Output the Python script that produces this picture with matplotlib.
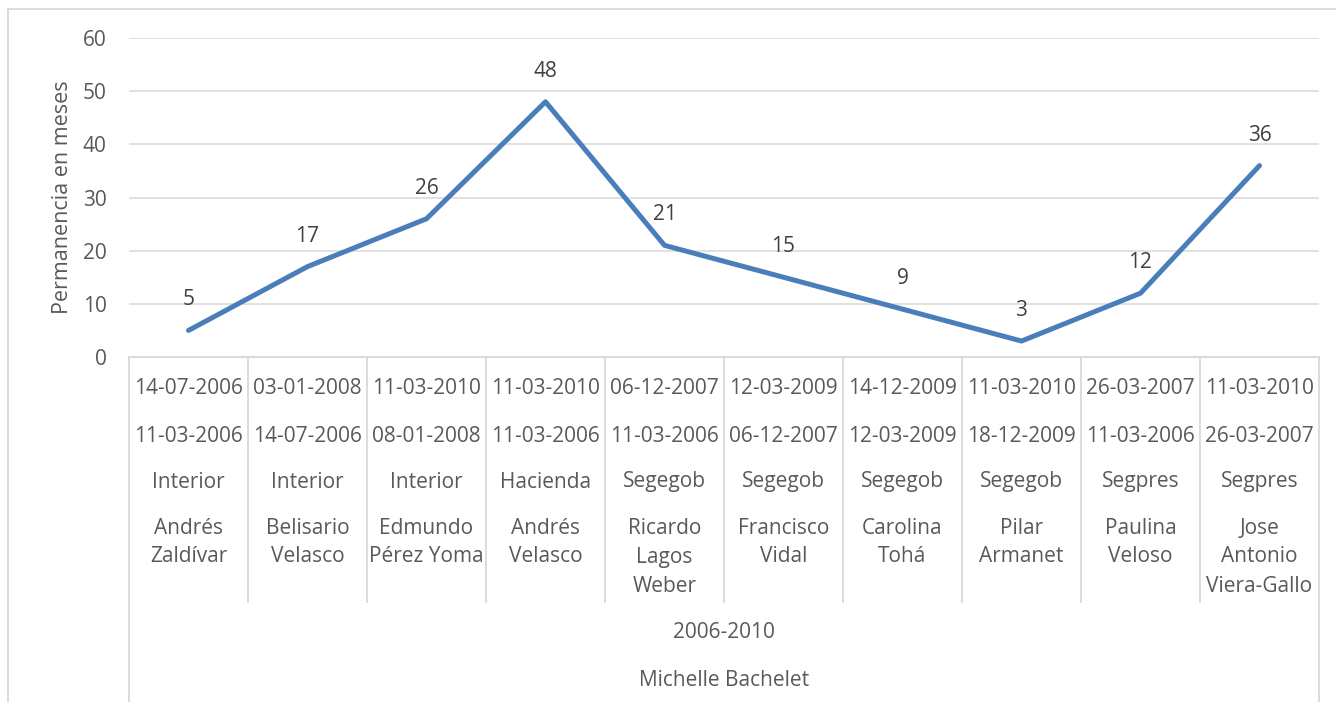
import matplotlib
matplotlib.use('Agg')
import matplotlib.pyplot as plt
from matplotlib.lines import Line2D
from matplotlib import transforms

# datos
fechas_fin = ['14-07-2006', '03-01-2008', '11-03-2010', '11-03-2010', '06-12-2007',
              '12-03-2009', '14-12-2009', '11-03-2010', '26-03-2007', '11-03-2010']
fechas_inicio = ['11-03-2006', '14-07-2006', '08-01-2008', '11-03-2006', '11-03-2006',
                 '06-12-2007', '12-03-2009', '18-12-2009', '11-03-2006', '26-03-2007']
ministerios = ['Interior', 'Interior', 'Interior', 'Hacienda', 'Segegob',
               'Segegob', 'Segegob', 'Segegob', 'Segpres', 'Segpres']
ministros = ['Andrés\nZaldívar', 'Belisario\nVelasco', 'Edmundo\nPérez Yoma',
             'Andrés\nVelasco', 'Ricardo\nLagos\nWeber', 'Francisco\nVidal',
             'Carolina\nTohá', 'Pilar\nArmanet', 'Paulina\nVeloso',
             'Jose\nAntonio\nViera-Gallo']
meses = [5, 17, 26, 48, 21, 15, 9, 3, 12, 36]
periodo = '2006-2010'
presidente = 'Michelle Bachelet'

plt.rcParams['font.family'] = ['Open Sans', 'DejaVu Sans']
txt = '#595959'
gris = '#d9d9d9'
fs = 15

W, H = 1336, 702
fig = plt.figure(figsize=(W / 100, H / 100), dpi=100)

def fy(py):
    return 1 - py / H

def fx(px):
    return px / W

ax = fig.add_axes([fx(129), fy(357), fx(1319) - fx(129), fy(38) - fy(357)])
x = list(range(len(meses)))
ax.plot(x, meses, color='#4a7ebb', lw=3.6, solid_joinstyle='round', solid_capstyle='round', zorder=3)
for xi, v in zip(x, meses):
    ax.annotate(str(v), (xi, v), xytext=(0, 22), textcoords='offset points',
                ha='center', va='center', fontsize=fs, color='#404040')

ax.set_xlim(-0.5, len(meses) - 0.5)
ax.set_ylim(0, 60)
ax.set_yticks(range(0, 61, 10))
ax.yaxis.grid(True, color=gris, lw=1.1)
ax.set_axisbelow(True)
ax.set_xticks([])
ax.tick_params(axis='y', length=0, pad=16, labelsize=fs, labelcolor=txt)
for s in ['top', 'right', 'left']:
    ax.spines[s].set_visible(False)
ax.spines['bottom'].set_color(gris)
ax.spines['bottom'].set_linewidth(1.3)

fig.text(fx(62), fy(197), 'Permanencia en meses', rotation=90, ha='center', va='center',
         fontsize=fs + 0.5, color=txt)

# tabla de categorías
tr = transforms.blended_transform_factory(ax.transData, fig.transFigure)
for i in x:
    ax.text(i, fy(389), fechas_fin[i], transform=tr, ha='center', va='center', fontsize=fs, color=txt)
    ax.text(i, fy(436), fechas_inicio[i], transform=tr, ha='center', va='center', fontsize=fs, color=txt)
    ax.text(i, fy(482), ministerios[i], transform=tr, ha='center', va='center', fontsize=fs, color=txt)
    for j, linea in enumerate(ministros[i].split('\n')):
        ax.text(i, fy(528 + 29 * j), linea, transform=tr, ha='center', va='center', fontsize=fs, color=txt)
for i in x[:-1]:
    ax.add_line(Line2D([i + 0.5, i + 0.5], [fy(357), fy(602)], transform=tr, color=gris, lw=1.3, clip_on=False))
for b in [-0.5, len(meses) - 0.5]:
    ax.add_line(Line2D([b, b], [fy(357), fy(702)], transform=tr, color=gris, lw=1.3, clip_on=False))
centro = (len(meses) - 1) / 2
ax.text(centro, fy(633), periodo, transform=tr, ha='center', va='center', fontsize=fs, color=txt)
ax.text(centro, fy(680), presidente, transform=tr, ha='center', va='center', fontsize=fs, color=txt)

# borde del gráfico
fig.add_artist(Line2D([fx(8), fx(8)], [fy(9), 0], color=gris, lw=1.3))
fig.add_artist(Line2D([fx(8), 1], [fy(9), fy(9)], color=gris, lw=1.3))

fig.savefig('out.png', dpi=100, facecolor='white')
